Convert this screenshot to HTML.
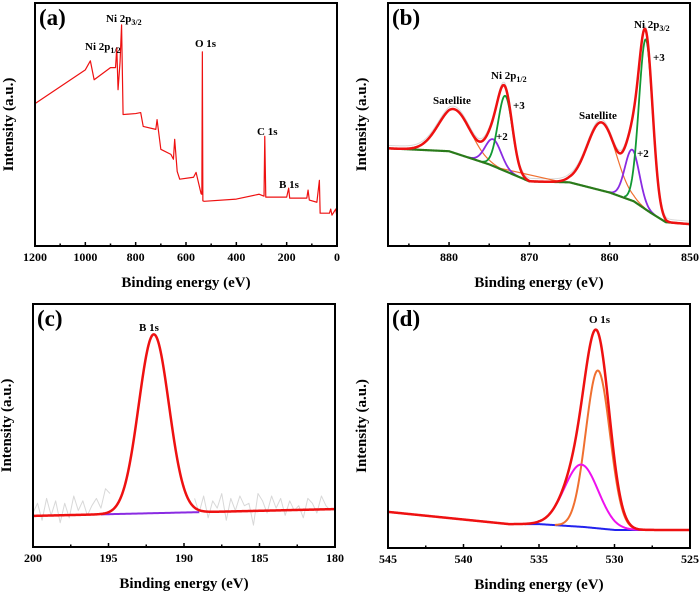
<!DOCTYPE html>
<html><head><meta charset="utf-8"><style>
html,body{margin:0;padding:0;background:#fff;}
svg{display:block;font-family:"Liberation Serif",serif;font-weight:bold;}
</style></head><body>
<svg id="fig" width="700" height="594" viewBox="0 0 700 594" xmlns="http://www.w3.org/2000/svg"></svg>
<script>
// ---- Panel (a) survey data ----
const surveyEnergy = [1200,1000,980,965,900,880,875,870,862,856,850,800,780,770,720,715,700,660,650,645,635,625,570,560,540,537,535,533,528,400,310,290,287,283,200,192,188,120,115,110,80,70,67,30,25,20,5,0];
const surveyIntensity = [58.6,72.5,76.2,68.4,73.4,73.4,81.6,64.3,75.8,91.0,54.1,54.5,54.9,49.2,48,52,39.8,37.7,35.7,43.9,30.7,27.5,28.3,30.3,21.5,21.3,79.9,18.6,18.4,19.3,21.3,20.5,45.1,20.1,20.1,23.8,19.7,19.7,23,18.9,18,27,13.5,13.5,15.2,12.7,15.2,11.9];
const aTicks = [1200,1000,800,600,400,200,0];
// ---- Panel (b) Ni 2p ----
const bBgEnergy = [887.6,880,875,870,865,860,857,855,853,850];
const bBgIntensity = [40.2,39,33.6,26.6,26.2,22,18.4,13.9,9.8,9];
const bSatCenters = [879.3,861];
const bSatHeights = [18,28];
const bSatSigmas = [2.0,1.8];
const bNi2Centers = [874.5,857.2];
const bNi2Heights = [11,21];
const bNi2Sigmas = [1.0,0.9];
const bNi3Centers = [873,855.5];
const bNi3Heights = [31,70];
const bNi3Sigmas = [0.9,0.85];
const bTicks = [880,870,860,850];
// ---- Panel (c) B 1s ----
const cBgEnergy = [200,180];
const cBgIntensity = [12.8,15.6];
const cPeakCenter = [192];
const cPeakHeight = [73.6];
const cPeakSigma = [1.0];
const cRawEnergyLeft = [200,199.7,199.4,199.1,198.8,198.5,198.2,197.9,197.6,197.3,197,196.7,196.4,196.1,195.8,195.5,195.2,194.9];
const cRawIntensityLeft = [14,18,11,20,13,19,10,18,12,21,15,19,13,17,20,16,24,22];
const cRawEnergyRight = [189.3,189,188.7,188.4,188.1,187.8,187.5,187.2,186.9,186.6,186.3,186,185.7,185.4,185.1,184.8,184.5,184.2,183.9,183.6,183.3,183,182.7,182.4,182.1,181.8,181.5,181.2,180.9,180.6,180.3];
const cRawIntensityRight = [20,14,21,12,19,16,22,11,20,15,21,17,18,9,22,19,14,21,16,20,13,19,15,17,12,20,18,14,21,17,15];
const cTicks = [200,195,190,185,180];
// ---- Panel (d) O 1s ----
const dBgEnergy = [545,537,535,532,530,525];
const dBgIntensity = [14.8,9.8,9.8,8.6,7.4,7.4];
const dLatticeCenter = [531.1], dLatticeHeight = [64.7], dLatticeSigma = [0.8];
const dAdsCenter = [532.2], dAdsHeight = [25.5], dAdsSigma = [1.12];
const dTicks = [545,540,535,530,525];

const NS="http://www.w3.org/2000/svg";
const svg=document.getElementById('fig');
function mk(tag,attrs,parent){const e=document.createElementNS(NS,tag);for(const k in attrs)e.setAttribute(k,attrs[k]);(parent||svg).appendChild(e);return e;}
function interp(xs,ys,x){for(let i=0;i<xs.length-1;i++){const a=xs[i],b=xs[i+1];if((x<=a&&x>=b)||(x>=a&&x<=b)){const t=(x-a)/(b-a);return ys[i]+t*(ys[i+1]-ys[i]);}}return ys[ys.length-1];}
function gauss(x,c,h,s){return h*Math.exp(-(x-c)*(x-c)/(2*s*s));}

function panel(p){
  const g=mk('g',{});
  
  
  const sx=e=>p.x0+(p.e0-e)/(p.e0-p.e1)*(p.x1-p.x0);
  const sy=v=>p.y1-v/100*(p.y1-p.y0);
  p.sx=sx;p.sy=sy;p.g=g;
  const step=p.minor;
  for(let e=p.e1;e<=p.e0+1e-9;e+=step){
    const x=sx(e);const major=p.ticks.some(t=>Math.abs(t-e)<1e-6);
    const tk=mk('line',{x1:x,x2:x,y1:p.y1,y2:p.y1-(major?4:2.5),stroke:'#000','stroke-width':1.5},g);
    
    
  }
  p.ticks.forEach(t=>{
    const tl=mk('text',{x:sx(t),y:p.y1+15,'text-anchor':'middle','font-size':12},g);
    tl.textContent=t;
    
    
  });
  const xt=mk('text',{x:(p.x0+p.x1)/2,y:p.y1+41,'text-anchor':'middle','font-size':15},g);
  xt.textContent='Binding energy (eV)';
  
  
  const yx=p.x0-22,yy=(p.y0+p.y1)/2;
  const yt=mk('text',{x:yx,y:yy,'text-anchor':'middle','font-size':15,transform:`rotate(-90 ${yx} ${yy})`},g);
  yt.textContent='Intensity (a.u.)';
  
  
  return g;
}
function frame(p){
  const r=mk('rect',{x:p.x0,y:p.y0,width:p.x1-p.x0,height:p.y1-p.y0,fill:'none',stroke:'#000','stroke-width':2},p.g);
  
  
  const lb=mk('text',{x:p.x0+4,y:p.y0+22,'font-size':23},p.g);
  lb.textContent='('+p.id+')';
  
  
}
function line(p,pts,color,w,name){
  const d=pts.map((q,i)=>(i?'L':'M')+p.sx(q[0]).toFixed(2)+','+p.sy(q[1]).toFixed(2)).join('');
  const el=mk('path',{d:d,fill:'none',stroke:color,'stroke-width':w,'stroke-linejoin':'round'},p.g);
  
  
  return el;
}
function label(p,x,y,txt,sub,name,size){
  const t=mk('text',{x:x,y:y,'font-size':size||11},p.g);
  t.appendChild(document.createTextNode(txt));
  if(sub){const s=mk('tspan',{'font-size':8,dy:3},t);s.textContent=sub;}
  
  
}
function range(a,b,n){const r=[];for(let i=0;i<=n;i++)r.push(a+(b-a)*i/n);return r;}

// Panel a
const A={id:'a',x0:35,x1:337,y0:3,y1:246,e0:1200,e1:0,ticks:aTicks,minor:100};
panel(A);
line(A,surveyEnergy.map((e,i)=>[e,surveyIntensity[i]]),'#ee1111',1.2,'survey-spectrum');
label(A,85,50,'Ni 2p','1/2','label-ni2p12');
label(A,106,22,'Ni 2p','3/2','label-ni2p32');
label(A,195,47,'O 1s',null,'label-o1s');
label(A,257,135,'C 1s',null,'label-c1s');
label(A,279,188,'B 1s',null,'label-b1s');
frame(A);

// Panel b
const B={id:'b',x0:388,x1:690,y0:3,y1:246,e0:887.6,e1:850,ticks:bTicks,minor:5};
panel(B);
const eb=range(887.6,850,500);
const bg=e=>interp(bBgEnergy,bBgIntensity,e);
const sat=e=>bSatCenters.reduce((s,c,i)=>s+gauss(e,c,bSatHeights[i],bSatSigmas[i]),0);
const n2=e=>bNi2Centers.reduce((s,c,i)=>s+gauss(e,c,bNi2Heights[i],bNi2Sigmas[i]),0);
const n3=e=>bNi3Centers.reduce((s,c,i)=>s+gauss(e,c,bNi3Heights[i],bNi3Sigmas[i]),0);
line(B,eb.map(e=>[e,bg(e)+sat(e)+n2(e)+n3(e)+1.2]),'#d8d8d8',1,'raw-data');
line(B,eb.filter(e=>sat(e)>0.3).map(e=>[e,bg(e)+sat(e)]),'#f07030',1.2,'satellite-fit');
bNi2Centers.forEach((c,i)=>line(B,eb.filter(e=>Math.abs(e-c)<3.2*bNi2Sigmas[i]).map(e=>[e,bg(e)+gauss(e,c,bNi2Heights[i],bNi2Sigmas[i])]),'#8a2be2',1.8,'ni2-fit'));
bNi3Centers.forEach((c,i)=>line(B,eb.filter(e=>Math.abs(e-c)<3.2*bNi3Sigmas[i]).map(e=>[e,bg(e)+gauss(e,c,bNi3Heights[i],bNi3Sigmas[i])]),'#119933',1.8,'ni3-fit'));
line(B,eb.map(e=>[e,bg(e)]),'#2a7a1a',2.2,'background');
line(B,eb.map(e=>[e,bg(e)+sat(e)+n2(e)+n3(e)]),'#ee1111',2.5,'envelope-fit');
label(B,433,104,'Satellite',null,'label-satellite-1');
label(B,579,119,'Satellite',null,'label-satellite-2');
label(B,491,79,'Ni 2p','1/2','label-ni2p12');
label(B,634,28,'Ni 2p','3/2','label-ni2p32');
label(B,653,61,'+3',null,'label-plus3-a');
label(B,513,109,'+3',null,'label-plus3-b');
label(B,496,140,'+2',null,'label-plus2-a');
label(B,637,157,'+2',null,'label-plus2-b');
frame(B);

// Panel c
const C={id:'c',x0:33,x1:335,y0:304,y1:547,e0:200,e1:180,ticks:cTicks,minor:2.5};
panel(C);
const ec=range(200,180,400);
const cbg=e=>interp(cBgEnergy,cBgIntensity,e);
line(C,cRawEnergyLeft.map((e,i)=>[e,cRawIntensityLeft[i]]),'#d8d8d8',1,'raw-data-left');
line(C,cRawEnergyRight.map((e,i)=>[e,cRawIntensityRight[i]]),'#d8d8d8',1,'raw-data-right');
line(C,range(195.5,189,50).map(e=>[e,cbg(e)]),'#8a2be2',2,'background');
line(C,ec.map(e=>[e,cbg(e)+gauss(e,cPeakCenter[0],cPeakHeight[0],cPeakSigma[0])]),'#ee1111',2.5,'b1s-fit');
label(C,139,331,'B 1s',null,'label-b1s');
frame(C);

// Panel d
const D={id:'d',x0:388,x1:690,y0:304,y1:548,e0:545,e1:525,ticks:dTicks,minor:2.5};
panel(D);
const ed=range(545,525,400);
const dbg=e=>interp(dBgEnergy,dBgIntensity,e);
const lat=e=>gauss(e,dLatticeCenter[0],dLatticeHeight[0],dLatticeSigma[0]);
const ads=e=>gauss(e,dAdsCenter[0],dAdsHeight[0],dAdsSigma[0]);
line(D,ed.filter(e=>e<536).map(e=>[e,dbg(e)]),'#2222ee',2,'background');
line(D,ed.filter(e=>e<534&&e>527).map(e=>[e,dbg(e)+lat(e)]),'#f07030',2,'lattice-oxygen-fit');
line(D,ed.filter(e=>e<536&&e>527).map(e=>[e,dbg(e)+ads(e)]),'#ee11ee',2,'adsorbed-oxygen-fit');
line(D,ed.map(e=>[e,dbg(e)+lat(e)+ads(e)]),'#ee1111',2.5,'o1s-envelope');
label(D,589,323,'O 1s',null,'label-o1s');
frame(D);
</script>
</body></html>
